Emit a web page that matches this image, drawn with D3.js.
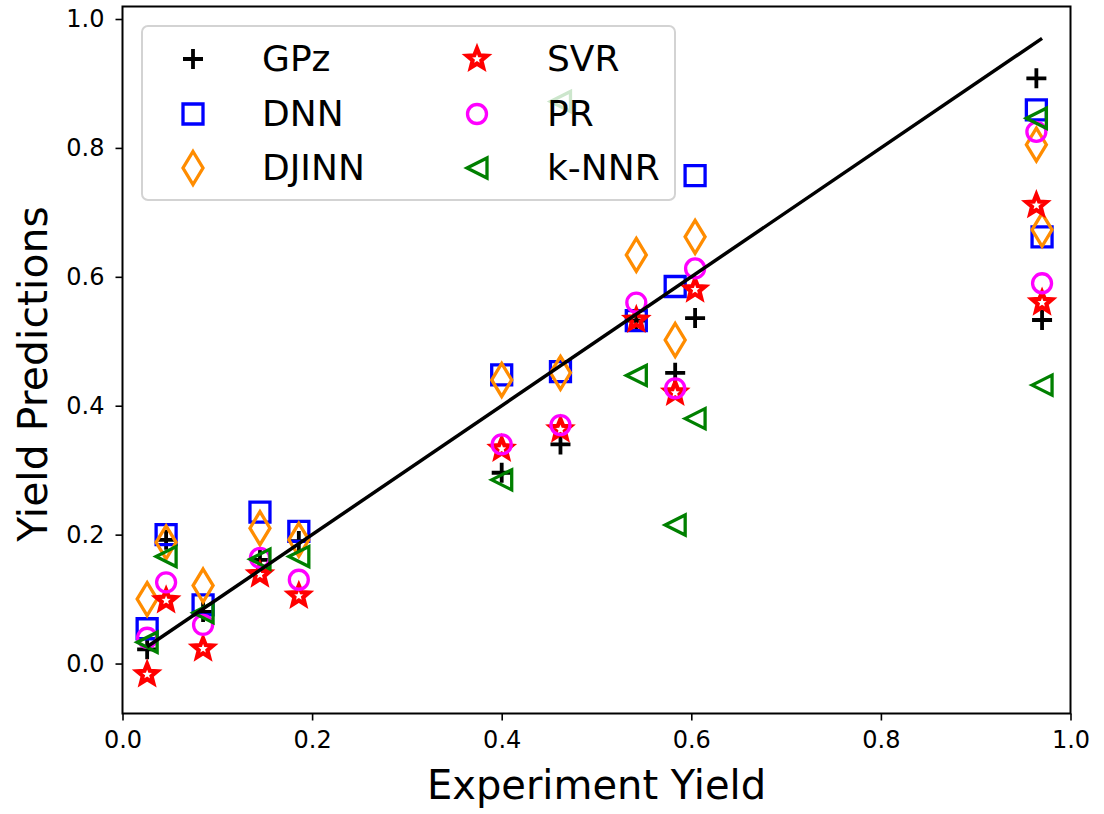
<!DOCTYPE html>
<html>
<head>
<meta charset="utf-8">
<script src="https://cdn.jsdelivr.net/npm/d3@7"></script>
<style>
  body { margin: 0; background: #fff; }
  svg { display: block; font-family: "DejaVu Sans", sans-serif; }
</style>
</head>
<body>
<svg id="chart"></svg>
<script>
// experiment yields (x) shared by every model
const expYield = [0.026, 0.046, 0.085, 0.145, 0.186, 0.400, 0.462, 0.542, 0.583, 0.604, 0.964, 0.970];

// predictions
const gpz   = [0.022, 0.192, 0.080, 0.161, 0.190, 0.296, 0.340, 0.532, 0.451, 0.536, 0.908, 0.533];
const dnn   = [0.054, 0.200, 0.091, 0.235, 0.205, 0.448, 0.453, 0.532, 0.585, 0.757, 0.859, 0.662];
const djinn = [0.100, 0.188, 0.121, 0.210, 0.192, 0.440, 0.451, 0.634, 0.502, 0.662, 0.805, 0.673];
const svr   = [-0.017, 0.098, 0.023, 0.138, 0.105, 0.333, 0.363, 0.533, 0.420, 0.580, 0.711, 0.560];
const pr    = [0.040, 0.126, 0.060, 0.164, 0.130, 0.340, 0.370, 0.560, 0.427, 0.613, 0.825, 0.590];
const knnr  = [0.033, 0.166, 0.079, 0.162, 0.166, 0.285, 0.872, 0.447, 0.215, 0.380, 0.846, 0.432];

const seriesNames = ["GPz", "DNN", "DJINN", "SVR", "PR", "k-NNR"];
const xTicks = [0, 0.2, 0.4, 0.6, 0.8, 1.0];
const yTicks = [0, 0.2, 0.4, 0.6, 0.8, 1.0];

const W = 1104, H = 814;
const margin = { top: 6.5, right: 33.5, bottom: 100.5, left: 122.5 };

const svg = d3.select("#chart").attr("width", W).attr("height", H);
svg.append("rect").attr("width", W).attr("height", H).attr("fill", "#fff");

const x = d3.scaleLinear().domain([0, 1]).range([margin.left, W - margin.right]);
const y = d3.scaleLinear().domain([-0.0775, 1.0194]).range([H - margin.bottom, margin.top]);

// marker shapes, matplotlib-like, unfilled
function markerPath(kind) {
  const p = d3.path();
  if (kind === "plus") {
    p.moveTo(-10, 0); p.lineTo(10, 0);
    p.moveTo(0, -10); p.lineTo(0, 10);
  } else if (kind === "square") {
    p.rect(-10, -10, 20, 20);
  } else if (kind === "thin_diamond") {
    p.moveTo(0, -16.5); p.lineTo(10, 0); p.lineTo(0, 16.5); p.lineTo(-10, 0); p.closePath();
  } else if (kind === "circle") {
    p.arc(0, 0, 9.5, 0, 2 * Math.PI); p.closePath();
  } else if (kind === "star") {
    for (let i = 0; i < 10; i++) {
      const r = i % 2 === 0 ? 10.5 : 4.6;
      const a = -Math.PI / 2 + i * Math.PI / 5;
      if (i === 0) p.moveTo(r * Math.cos(a), r * Math.sin(a));
      else p.lineTo(r * Math.cos(a), r * Math.sin(a));
    }
    p.closePath();
  } else if (kind === "tri_left") {
    p.moveTo(-10, 0); p.lineTo(10, -10); p.lineTo(10, 10); p.closePath();
  }
  return p.toString();
}

const series = [
  { name: seriesNames[0], values: gpz,   marker: "plus",         color: "#000000", sw: 3.8 },
  { name: seriesNames[1], values: dnn,   marker: "square",       color: "#0000ff", sw: 3.3 },
  { name: seriesNames[2], values: djinn, marker: "thin_diamond", color: "#ff8c00", sw: 3.3 },
  { name: seriesNames[3], values: svr,   marker: "star",         color: "#ff0000", sw: 4.2 },
  { name: seriesNames[4], values: pr,    marker: "circle",       color: "#ff00ff", sw: 3.3 },
  { name: seriesNames[5], values: knnr,  marker: "tri_left",     color: "#008000", sw: 3.3 }
];

// axes
const xAxis = svg.append("g")
  .attr("transform", `translate(0,${H - margin.bottom})`)
  .call(d3.axisBottom(x).tickValues(xTicks).tickFormat(d3.format(".1f")).tickSize(7).tickPadding(10));
const yAxis = svg.append("g")
  .attr("transform", `translate(${margin.left},0)`)
  .call(d3.axisLeft(y).tickValues(yTicks).tickFormat(d3.format(".1f")).tickSize(7).tickPadding(11));

[xAxis, yAxis].forEach(g => {
  g.select(".domain").remove();
  g.selectAll(".tick line").attr("stroke", "#000").attr("stroke-width", 1.6);
  g.selectAll(".tick text").attr("font-size", 24).attr("fill", "#000")
    .attr("font-family", "DejaVu Sans");
});

// points
const plot = svg.append("g");
series.forEach(s => {
  plot.append("g").selectAll("path")
    .data(s.values.map((v, i) => ({ x: expYield[i], y: v })))
    .join("path")
    .attr("transform", d => `translate(${x(d.x)},${y(d.y)})`)
    .attr("d", markerPath(s.marker))
    .attr("fill", "none")
    .attr("stroke", s.color)
    .attr("stroke-width", s.sw)
    .attr("stroke-linejoin", "miter");
});

// y = x reference line across the measured range
const lo = d3.min(expYield), hi = d3.max(expYield);
svg.append("line")
  .attr("x1", x(lo)).attr("y1", y(lo))
  .attr("x2", x(hi)).attr("y2", y(hi))
  .attr("stroke", "#000").attr("stroke-width", 3.5);

// frame
svg.append("rect")
  .attr("x", margin.left).attr("y", margin.top)
  .attr("width", W - margin.left - margin.right)
  .attr("height", H - margin.top - margin.bottom)
  .attr("fill", "none").attr("stroke", "#000").attr("stroke-width", 2);

// axis labels
svg.append("text")
  .attr("x", (margin.left + W - margin.right) / 2).attr("y", 799)
  .attr("text-anchor", "middle").attr("font-size", 40)
  .text("Experiment Yield");
svg.append("text")
  .attr("transform", `translate(47,${(margin.top + H - margin.bottom) / 2 + 14}) rotate(-90)`)
  .attr("text-anchor", "middle").attr("font-size", 41)
  .text("Yield Predictions");

// legend, two columns
const legend = svg.append("g");
legend.append("rect")
  .attr("x", 142).attr("y", 26).attr("width", 533).attr("height", 174)
  .attr("rx", 6).attr("fill", "#fff").attr("fill-opacity", 0.8)
  .attr("stroke", "#d3d3d3").attr("stroke-width", 2);

const colX = [193, 477];
const labelX = [262, 547];
const rowY = [59, 114, 168];
series.forEach((s, i) => {
  const c = Math.floor(i / 3), r = i % 3;
  legend.append("path")
    .attr("transform", `translate(${colX[c]},${rowY[r]})`)
    .attr("d", markerPath(s.marker))
    .attr("fill", "none").attr("stroke", s.color).attr("stroke-width", s.sw);
  legend.append("text")
    .attr("x", labelX[c]).attr("y", rowY[r] + 12)
    .attr("font-size", 36).attr("fill", "#000")
    .text(s.name);
});
</script>
</body>
</html>
